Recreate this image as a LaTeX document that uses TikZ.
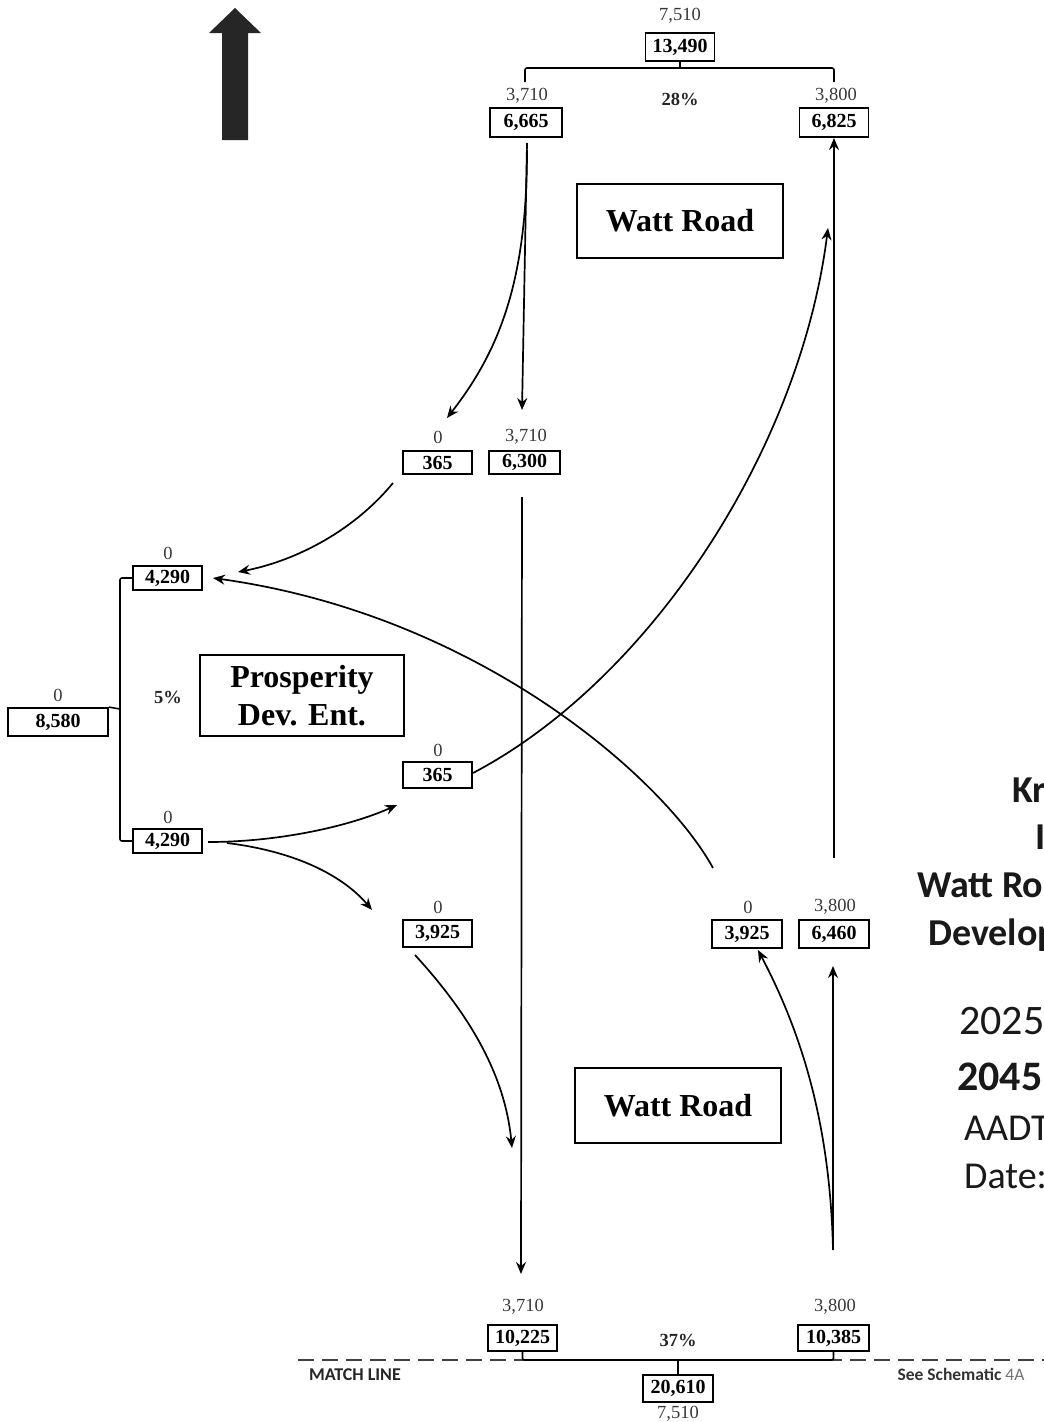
\documentclass[tikz,border=0pt]{standalone}
\usepackage{fontspec}
\setmainfont{Liberation Serif}
\newfontfamily\calib{Carlito}
\usetikzlibrary{arrows.meta}
\begin{document}
\begin{tikzpicture}[x=1pt,y=-1pt,
  box/.style={draw=black, line width=1.8pt, inner sep=0pt, font=\fontsize{20}{20}\selectfont\bfseries},
  lab/.style={inner sep=0pt, text=black!78, font=\fontsize{18.5}{18.5}\selectfont},
  pct/.style={inner sep=0pt, text=black!85, font=\fontsize{18.5}{18.5}\selectfont\bfseries},
  road/.style={draw, line width=1.8pt, inner sep=0pt, align=center, font=\fontsize{32}{38}\selectfont\bfseries},
  flow/.style={line width=1.7pt, -{Stealth[length=12pt,width=10pt,inset=4pt]}},
  brk/.style={line width=1.6pt, rounded corners=2pt},
  side/.style={inner sep=0pt, anchor=base west, text=black!90},
  sidefont/.style={font=\calib\fontsize{38}{38}\selectfont},
  sidebold/.style={font=\calib\bfseries\fontsize{38}{38}\selectfont},
  yearfont/.style={font=\calib\fontsize{42}{42}\selectfont},
  yearbold/.style={font=\calib\bfseries\fontsize{42}{42}\selectfont}
]
\fill[white] (0,0) rectangle (1044,1422);
\clip (0,0) rectangle (1044,1422);

% north arrow
\fill[black!85] (235,8) -- (261,33) -- (248,33) -- (248,140) -- (222,140) -- (222,33) -- (209,33) -- cycle;

% ---------- top group ----------
\node[lab] (l7510t) at (680,16) {7,510};
\node[box, minimum width=69pt, minimum height=28pt] (t13490) at (680,47) {13,490};
\node[lab] (l3710t) at (527,96) {3,710};
\node[box, minimum width=72pt, minimum height=29pt] (t6665) at (526,122.5) {6,665};
\node[lab] (l3800t) at (836,96) {3,800};
\node[box, minimum width=69pt, minimum height=29pt] (t6825) at (834,122.5) {6,825};
\node[pct] (p28) at (680,99) {28\%};
\coordinate (tbl) at (525,82);
\coordinate (tbr) at (834,82);
\coordinate (tbm) at (680,68);
\draw[brk] (tbl) -- (525,68) -- (834,68) -- (tbr);
\draw[brk] (tbm) -- (t13490.south);

\node[road, minimum width=206pt, minimum height=74pt] (wr1) at (680,221) {Watt Road};

% ---------- middle upper ----------
\node[lab] (l0a) at (438,437) {0};
\node[box, minimum width=69pt, minimum height=23pt] (m365a) at (437.5,462.5) {365};
\node[lab] (l3710m) at (526,437) {3,710};
\node[box, minimum width=71pt, minimum height=23pt] (m6300) at (524.5,462.5) {6,300};

% ---------- left group ----------
\node[lab] (l0b) at (168,553) {0};
\node[box, minimum width=69pt, minimum height=24pt] (b4290a) at (167.5,578) {4,290};
\node[lab] (l0c) at (58,695) {0};
\node[box, minimum width=100pt, minimum height=28pt] (b8580) at (58,722) {8,580};
\node[lab] (l0d) at (168,817) {0};
\node[box, minimum width=69pt, minimum height=24pt] (b4290b) at (167.5,841) {4,290};
\node[pct] (p5) at (168,697) {5\%};
\node[road, minimum width=204pt, minimum height=81pt] (pros) at (302,695.5) {Prosperity\\Dev. Ent.};
\coordinate (lbm) at (120,709);
\draw[brk] (b8580.north east) -- (lbm);
\draw[brk] (b4290a.west) -- (120,578) -- (120,841) -- (b4290b.west);

% ---------- middle lower ----------
\node[lab] (l0e) at (438,750) {0};
\node[box, minimum width=69pt, minimum height=26pt] (m365b) at (437.5,775) {365};
\node[lab] (l0f) at (438,907) {0};
\node[box, minimum width=69pt, minimum height=27pt] (m3925a) at (437.5,933.5) {3,925};
\node[lab] (l0g) at (748,907) {0};
\node[box, minimum width=70pt, minimum height=28pt] (m3925b) at (747,934) {3,925};
\node[lab] (l3800m) at (835,907) {3,800};
\node[box, minimum width=70pt, minimum height=28pt] (m6460) at (834,934) {6,460};

\node[road, minimum width=206pt, minimum height=75pt] (wr2) at (678,1105.5) {Watt Road};

% ---------- bottom group ----------
\node[lab] (l3710b) at (523,1307) {3,710};
\node[box, minimum width=69pt, minimum height=26pt] (b10225) at (522.5,1338) {10,225};
\node[lab] (l3800b) at (835,1307) {3,800};
\node[box, minimum width=71pt, minimum height=26pt] (b10385) at (833.5,1338) {10,385};
\node[pct] (p37) at (678,1340) {37\%};
\node[box, minimum width=70pt, minimum height=27pt] (b20610) at (678,1388.5) {20,610};
\node[lab] (l7510b) at (678,1414) {7,510};

\draw[black!75, line width=1.4pt, dash pattern=on 16pt off 8pt] (298,1360) -- (1044,1360);
\coordinate (bbm) at (678,1360);
\draw[brk] (b10225.south) -- (522.5,1360) -- (833.5,1360) -- (b10385.south);
\draw[brk] (bbm) -- (b20610.north);

\node[inner sep=0pt, text=black!85, font=\calib\bfseries\fontsize{18}{18}\selectfont] (match) at (355,1375) {MATCH LINE};
\node[inner sep=0pt, text=black!80, font=\calib\bfseries\fontsize{17.5}{17.5}\selectfont] (see) at (961,1374) {See Schematic {\mdseries\color{black!55}4A}};

% ---------- flows ----------
\coordinate (a1s) at (527,143);
\coordinate (a1e) at (522,410);
\draw[flow] (a1s) -- (a1e);
\coordinate (a2s) at (527,150);
\coordinate (a2e) at (447,418);
\draw[flow] (a2s) .. controls (527,280) and (500,350) .. (a2e);

\coordinate (a3s) at (522,497);
\coordinate (a3e) at (521,1274);
\draw[flow] (a3s) -- (a3e);

\coordinate (a4s) at (393,483);
\coordinate (a4e) at (238,572);
\draw[flow] (a4s) .. controls (350,535) and (290,562) .. (a4e);

\coordinate (a5s) at (713,868);
\coordinate (a5e) at (213,578);
\draw[flow] (a5s) .. controls (665,780) and (480,615) .. (a5e);

\coordinate (a6s) at (473,773);
\coordinate (a6e) at (828,228);
\draw[flow] (a6s) .. controls (650,680) and (800,450) .. (a6e);

\coordinate (a7s) at (208,842);
\coordinate (a7e) at (397,805);
\draw[flow] (a7s) .. controls (280,842) and (350,826) .. (a7e);

\coordinate (a8s) at (227,843);
\coordinate (a8e) at (372,910);
\draw[flow] (a8s) .. controls (300,852) and (345,878) .. (a8e);

\coordinate (a9s) at (415,955);
\coordinate (a9e) at (512,1148);
\draw[flow] (a9s) .. controls (470,1015) and (505,1075) .. (a9e);

\coordinate (a10s) at (833,1250);
\coordinate (a10e) at (758,950);
\draw[flow] (a10s) .. controls (830,1120) and (800,1030) .. (a10e);
\coordinate (a11e) at (833,966);
\draw[flow] (a10s) -- (a11e);

\coordinate (a12s) at (834,858);
\coordinate (a12e) at (834,138);
\draw[flow] (a12s) -- (a12e);

% ---------- side title, cut by the page edge as in the reference ----------
\node[side, sidebold] (s1) at (1012,802) {Kr};
\node[side, sidebold] (s2) at (1035,849) {I};
\node[side, sidebold] (s3) at (917,897) {Watt Road};
\node[side, sidebold] (s4) at (928,945) {Development};
\node[side, yearfont] (s5) at (959,1034) {2025};
\node[side, yearbold] (s6) at (957,1090) {2045};
\node[side, sidefont] (s7) at (964,1140) {AADT};
\node[side, sidefont] (s8) at (964,1188) {Date:};
\end{tikzpicture}
\end{document}
